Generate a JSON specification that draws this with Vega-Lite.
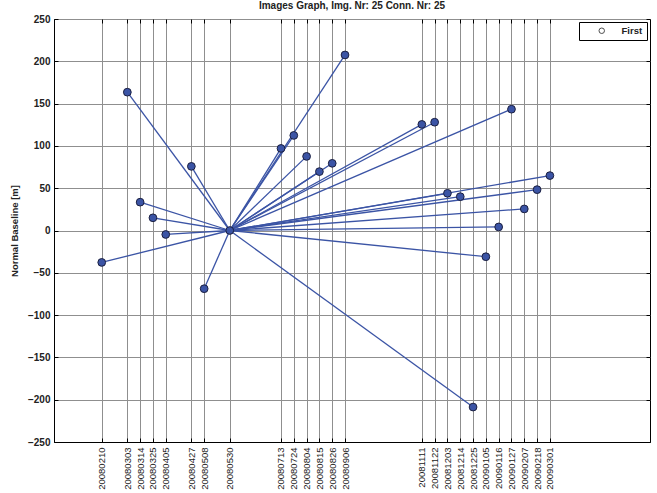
{
  "$schema": "https://vega.github.io/schema/vega-lite/v6.json",
  "width": 596,
  "height": 423,
  "autosize": {"type": "none"},
  "padding": {"left": 54, "top": 19, "right": 7, "bottom": 51},
  "background": "white",
  "title": {"text": "Images Graph, Img. Nr: 25 Conn. Nr: 25", "font": "Liberation Sans", "fontSize": 10, "fontWeight": "bold", "color": "#222", "anchor": "middle", "offset": 3},
  "config": {
    "view": {"stroke": "black", "strokeWidth": 1},
    "axis": {"labelFont": "Liberation Sans", "titleFont": "Liberation Sans", "labelColor": "#222", "titleColor": "#222", "domainColor": "black", "tickColor": "black", "gridColor": "#8f8f8f", "gridOpacity": 1, "gridWidth": 1}
  },
  "data": {
    "values": [
      {"date": "20080210", "bl": -37.7, "series": "First"},
      {"date": "20080303", "bl": 163.5, "series": "First"},
      {"date": "20080314", "bl": 33.5, "series": "First"},
      {"date": "20080325", "bl": 15, "series": "First"},
      {"date": "20080405", "bl": -4.7, "series": "First"},
      {"date": "20080427", "bl": 75.8, "series": "First"},
      {"date": "20080508", "bl": -68.8, "series": "First"},
      {"date": "20080530", "bl": 0, "series": "First"},
      {"date": "20080713", "bl": 97, "series": "First"},
      {"date": "20080724", "bl": 112.4, "series": "First"},
      {"date": "20080804", "bl": 87.6, "series": "First"},
      {"date": "20080815", "bl": 69.6, "series": "First"},
      {"date": "20080826", "bl": 79.4, "series": "First"},
      {"date": "20080906", "bl": 207.5, "series": "First"},
      {"date": "20081111", "bl": 125.4, "series": "First"},
      {"date": "20081122", "bl": 128, "series": "First"},
      {"date": "20081203", "bl": 44, "series": "First"},
      {"date": "20081214", "bl": 40, "series": "First"},
      {"date": "20081225", "bl": -208.7, "series": "First"},
      {"date": "20090105", "bl": -31, "series": "First"},
      {"date": "20090116", "bl": 4.2, "series": "First"},
      {"date": "20090127", "bl": 143.4, "series": "First"},
      {"date": "20090207", "bl": 25.5, "series": "First"},
      {"date": "20090218", "bl": 48.3, "series": "First"},
      {"date": "20090301", "bl": 64.9, "series": "First"}
    ],
    "format": {"parse": {"date": "utc:'%Y%m%d'"}}
  },
  "resolve": {"axis": {"x": "independent", "y": "independent"}},
  "layer": [
    {
      "mark": {"type": "rule", "color": "#3b54a5", "strokeWidth": 1.3},
      "encoding": {
        "x": {
          "field": "date", "type": "temporal",
          "scale": {"type": "utc", "domain": [{"year": 2007, "month": 12, "date": 31, "utc": true}, {"year": 2009, "month": 5, "date": 26, "utc": true}]},
          "axis": {
            "orient": "bottom", "title": null, "grid": true, "tickSize": -4, "labelPadding": 9, "labelAngle": -90, "labelFontSize": 9.5, "labelOverlap": false, "labelFlush": false,
            "labelExpr": "utcFormat(datum.value, '%Y%m%d')",
            "values": [
              {"year": 2008, "month": 2, "date": 10, "utc": true},
              {"year": 2008, "month": 3, "date": 3, "utc": true},
              {"year": 2008, "month": 3, "date": 14, "utc": true},
              {"year": 2008, "month": 3, "date": 25, "utc": true},
              {"year": 2008, "month": 4, "date": 5, "utc": true},
              {"year": 2008, "month": 4, "date": 27, "utc": true},
              {"year": 2008, "month": 5, "date": 8, "utc": true},
              {"year": 2008, "month": 5, "date": 30, "utc": true},
              {"year": 2008, "month": 7, "date": 13, "utc": true},
              {"year": 2008, "month": 7, "date": 24, "utc": true},
              {"year": 2008, "month": 8, "date": 4, "utc": true},
              {"year": 2008, "month": 8, "date": 15, "utc": true},
              {"year": 2008, "month": 8, "date": 26, "utc": true},
              {"year": 2008, "month": 9, "date": 6, "utc": true},
              {"year": 2008, "month": 11, "date": 11, "utc": true},
              {"year": 2008, "month": 11, "date": 22, "utc": true},
              {"year": 2008, "month": 12, "date": 3, "utc": true},
              {"year": 2008, "month": 12, "date": 14, "utc": true},
              {"year": 2008, "month": 12, "date": 25, "utc": true},
              {"year": 2009, "month": 1, "date": 5, "utc": true},
              {"year": 2009, "month": 1, "date": 16, "utc": true},
              {"year": 2009, "month": 1, "date": 27, "utc": true},
              {"year": 2009, "month": 2, "date": 7, "utc": true},
              {"year": 2009, "month": 2, "date": 18, "utc": true},
              {"year": 2009, "month": 3, "date": 1, "utc": true}
            ]
          }
        },
        "x2": {"datum": {"year": 2008, "month": 5, "date": 30, "utc": true}},
        "y": {
          "field": "bl", "type": "quantitative",
          "scale": {"domain": [-250, 250], "nice": false, "zero": false},
          "axis": {"orient": "left", "title": "Normal Baseline [m]", "titleFontSize": 9.5, "titleFontWeight": "bold", "titlePadding": 8, "values": [-250, -200, -150, -100, -50, 0, 50, 100, 150, 200, 250], "grid": true, "tickSize": -4, "labelPadding": 8, "labelFontSize": 10, "labelFontWeight": "bold", "labelFlush": false}
        },
        "y2": {"datum": 0}
      }
    },
    {
      "mark": {"type": "point", "shape": "circle", "filled": true, "fill": "#3b54a5", "stroke": "#1c2040", "strokeWidth": 1, "size": 60, "opacity": 1},
      "encoding": {
        "x": {
          "field": "date", "type": "temporal",
          "axis": {
            "orient": "top", "title": null, "grid": false, "labels": false, "tickSize": -4, "domain": false,
            "values": [
              {"year": 2008, "month": 2, "date": 10, "utc": true},
              {"year": 2008, "month": 3, "date": 3, "utc": true},
              {"year": 2008, "month": 3, "date": 14, "utc": true},
              {"year": 2008, "month": 3, "date": 25, "utc": true},
              {"year": 2008, "month": 4, "date": 5, "utc": true},
              {"year": 2008, "month": 4, "date": 27, "utc": true},
              {"year": 2008, "month": 5, "date": 8, "utc": true},
              {"year": 2008, "month": 5, "date": 30, "utc": true},
              {"year": 2008, "month": 7, "date": 13, "utc": true},
              {"year": 2008, "month": 7, "date": 24, "utc": true},
              {"year": 2008, "month": 8, "date": 4, "utc": true},
              {"year": 2008, "month": 8, "date": 15, "utc": true},
              {"year": 2008, "month": 8, "date": 26, "utc": true},
              {"year": 2008, "month": 9, "date": 6, "utc": true},
              {"year": 2008, "month": 11, "date": 11, "utc": true},
              {"year": 2008, "month": 11, "date": 22, "utc": true},
              {"year": 2008, "month": 12, "date": 3, "utc": true},
              {"year": 2008, "month": 12, "date": 14, "utc": true},
              {"year": 2008, "month": 12, "date": 25, "utc": true},
              {"year": 2009, "month": 1, "date": 5, "utc": true},
              {"year": 2009, "month": 1, "date": 16, "utc": true},
              {"year": 2009, "month": 1, "date": 27, "utc": true},
              {"year": 2009, "month": 2, "date": 7, "utc": true},
              {"year": 2009, "month": 2, "date": 18, "utc": true},
              {"year": 2009, "month": 3, "date": 1, "utc": true}
            ]
          }
        },
        "y": {
          "field": "bl", "type": "quantitative",
          "axis": {"orient": "right", "title": null, "grid": false, "labels": false, "tickSize": -4, "domain": false, "values": [-250, -200, -150, -100, -50, 0, 50, 100, 150, 200, 250]}
        }
      }
    },
    {
      "mark": {"type": "point", "shape": "circle", "filled": false, "stroke": "black", "strokeWidth": 1, "size": 0},
      "encoding": {
        "x": {"field": "date", "type": "temporal", "axis": null},
        "y": {"field": "bl", "type": "quantitative", "axis": null},
        "shape": {
          "field": "series", "type": "nominal",
          "scale": {"range": ["circle"]},
          "legend": {
            "title": null, "orient": "top-right", "offset": 3, "strokeColor": "black", "fillColor": "white", "padding": 4,
            "labelFont": "Liberation Sans", "labelFontSize": 9.5, "labelFontWeight": "bold", "labelColor": "#222",
            "symbolSize": 30, "symbolOffset": 14, "labelOffset": 15, "symbolStrokeWidth": 1,
            "symbolFillColor": "white", "symbolStrokeColor": "black"
          }
        }
      }
    }
  ]
}
